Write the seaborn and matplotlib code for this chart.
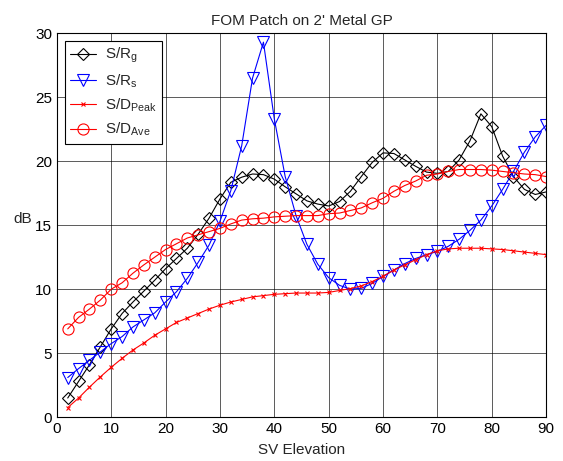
import seaborn as sns
import matplotlib.pyplot as plt
import numpy as np
import pandas as pd

# elevation angles (deg)
elevation = list(range(2, 91, 2))

s_rg = [1.5, 2.8, 4.1, 5.5, 6.9, 8.1, 9.0, 9.85, 10.7, 11.6,
        12.4, 13.2, 14.3, 15.55, 17.05, 18.35, 18.75, 19.0, 18.95, 18.6,
        18.0, 17.45, 16.9, 16.65, 16.5, 16.85, 17.65, 18.8, 19.9, 20.65,
        20.6, 20.1, 19.6, 19.15, 19.05, 19.2, 20.1, 21.6, 23.7, 22.7,
        20.4, 18.8, 17.8, 17.4, 17.6]

s_rs = [3.1, 3.8, 4.45, 5.1, 5.75, 6.3, 7.05, 7.6, 8.15, 9.0,
        9.8, 10.85, 12.1, 13.45, 15.3, 17.7, 21.2, 26.5, 29.3, 23.3,
        18.8, 15.75, 13.5, 11.95, 10.9, 10.3, 10.0, 10.07, 10.45, 11.0,
        11.5, 12.0, 12.4, 12.7, 12.95, 13.35, 13.9, 14.6, 15.4, 16.5,
        17.8, 19.2, 20.7, 21.9, 22.8]

s_dpeak = [0.75, 1.5, 2.35, 3.15, 3.9, 4.6, 5.25, 5.8, 6.4, 6.9,
           7.4, 7.75, 8.1, 8.45, 8.75, 9.0, 9.2, 9.4, 9.5, 9.6,
           9.65, 9.7, 9.7, 9.7, 9.75, 9.9, 10.05, 10.25, 10.6, 11.0,
           11.5, 11.9, 12.3, 12.7, 13.0, 13.15, 13.2, 13.2, 13.2, 13.15,
           13.1, 13.0, 12.9, 12.8, 12.7]

s_dave = [6.9, 7.8, 8.45, 9.15, 10.0, 10.5, 11.25, 11.9, 12.5, 13.1,
          13.55, 14.0, 14.25, 14.5, 14.75, 15.1, 15.4, 15.5, 15.55, 15.65,
          15.7, 15.75, 15.75, 15.75, 15.9, 15.95, 16.15, 16.35, 16.75, 17.1,
          17.65, 18.1, 18.45, 18.9, 19.0, 19.2, 19.35, 19.35, 19.35, 19.3,
          19.2, 19.1, 19.0, 18.95, 18.8]

labels = [r'S/R$_\mathrm{g}$', r'S/R$_\mathrm{s}$',
          r'S/D$_\mathrm{Peak}$', r'S/D$_\mathrm{Ave}$']

sns.set_style("white")
plt.rcParams['font.family'] = ['Liberation Sans', 'DejaVu Sans']
plt.rcParams['mathtext.fontset'] = 'custom'
plt.rcParams['mathtext.rm'] = 'Liberation Sans'
plt.rcParams['mathtext.it'] = 'Liberation Sans'

df = pd.DataFrame({'x': elevation, 'rg': s_rg, 'rs': s_rs,
                   'dpeak': s_dpeak, 'dave': s_dave})

fig = plt.figure(figsize=(5.63, 4.61), dpi=100)
ax = fig.add_axes([0.101, 0.095, 0.869, 0.833])

styles = [
    ('rg', 'black', 'D', 6, 'none'),
    ('rs', 'blue', 'v', 8, 'none'),
    ('dpeak', 'red', 'x', 3.5, 'red'),
    ('dave', 'red', 'o', 8, 'none'),
]
for (col, c, m, ms, mfc), lab in zip(styles, labels):
    sns.lineplot(data=df, x='x', y=col, ax=ax, color=c, marker=m,
                 markersize=ms, markerfacecolor=mfc, markeredgecolor=c,
                 markeredgewidth=0.8, linewidth=0.8, label=lab)

ax.set_xlim(0, 90)
ax.set_ylim(0, 30)
ax.set_xticks(range(0, 91, 10))
ax.set_yticks(range(0, 31, 5))
ax.grid(True, color='black', linewidth=0.6, alpha=0.75)
for s in ax.spines.values():
    s.set_color('black')
    s.set_linewidth(0.8)
ax.tick_params(direction='in', length=4, labelsize=11, colors='black')
ax.set_title("FOM Patch on 2' Metal GP", fontsize=11)
ax.set_xlabel('SV Elevation', fontsize=11, labelpad=5)
ax.set_ylabel('dB', fontsize=11, rotation=0, ha='center', va='center')
ax.yaxis.set_label_coords(-0.07, 0.515)

leg = ax.legend(loc='upper left', fontsize=11, frameon=True, fancybox=False,
                edgecolor='black', framealpha=1, borderaxespad=0.5,
                handlelength=1.7, handletextpad=0.6, labelspacing=0.45,
                borderpad=0.35)
leg.get_frame().set_linewidth(0.8)

plt.savefig('out.png', dpi=100)
